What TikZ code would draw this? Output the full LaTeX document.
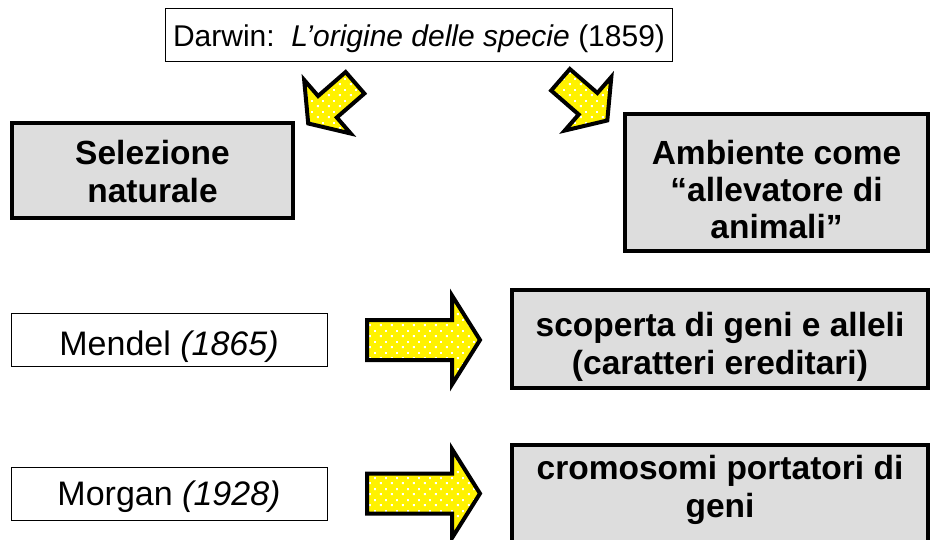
\documentclass[tikz,border=0pt]{standalone}
\usepackage{fontspec}
\setmainfont{Liberation Sans}
\usetikzlibrary{patterns}

% sparse staggered white dots used inside the yellow block arrows
\pgfdeclarepatternformonly{sparsedots}{\pgfqpoint{0pt}{0pt}}{\pgfqpoint{10.5pt}{10.5pt}}{\pgfqpoint{10.5pt}{10.5pt}}{%
  \pgfpathrectangle{\pgfqpoint{1pt}{1pt}}{\pgfqpoint{2pt}{2pt}}%
  \pgfpathrectangle{\pgfqpoint{6.25pt}{6.25pt}}{\pgfqpoint{2pt}{2pt}}%
  \pgfusepath{fill}}

\definecolor{boxgray}{RGB}{221,221,221}

% block arrow: start x, start y, angle, length, shaft half width, head base, head half width
\newcommand\yellowarrow[7]{%
  \path[blockarrow, shift={(#1,#2)}, rotate=#3]
    (0,#5) -- (#6,#5) -- (#6,#7) -- (#4,0) -- (#6,-#7) -- (#6,-#5) -- (0,-#5) -- cycle;}

% invisible struts that move a multi-line text block down or up inside its box
\newcommand\tallfirst[1]{\rule{0pt}{#1}}
\newcommand\deeplast[1]{\rule[-#1]{0pt}{0pt}}

\begin{document}
\begin{tikzpicture}[x=1pt, y=1pt,
  plainbox/.style={draw=black, line width=1pt, fill=white, inner sep=0pt, align=center,
    font=\fontsize{34}{38}\selectfont},
  titlebox/.style={plainbox, font=\fontsize{30}{36}\selectfont},
  graybox/.style={draw=black, line width=4pt, fill=boxgray, inner sep=0pt, align=center,
    font=\bfseries\fontsize{33.5}{38}\selectfont},
  blockarrow/.style={draw=black, line width=4pt, line join=miter,
    preaction={fill=yellow}, preaction={pattern=sparsedots, pattern color=white}}]

\clip (0,0) rectangle (931,-540);
\useasboundingbox (0,0) rectangle (931,-540);

% title
\node[titlebox, minimum width=507, minimum height=53, text height=26pt, text depth=3.6pt]
  (darwin) at (419,-35.5)
  {Darwin:\ \ \textit{L’origine delle specie} (1859)};

% outcomes of Darwin's theory
\node[graybox, minimum width=281, minimum height=95] (selezione) at (152.5,-170.5)
  {\tallfirst{26.5pt}Selezione\\naturale};
\node[graybox, minimum width=303, minimum height=137,
      font=\bfseries\fontsize{33.5}{37}\selectfont] (ambiente) at (776.5,-182.5)
  {\tallfirst{39pt}Ambiente come\\“allevatore di\\animali”};

% Mendel
\node[plainbox, minimum width=316, minimum height=53, text height=31.5pt, text depth=0.5pt]
  (mendel) at (169,-339.5)
  {Mendel \textit{(1865)}};
\node[graybox, minimum width=416, minimum height=98] (scoperta) at (720,-339)
  {\tallfirst{40.4pt}scoperta di geni e alleli\\(caratteri ereditari)};

% Morgan
\node[plainbox, minimum width=316, minimum height=53, text height=28pt, text depth=4pt]
  (morgan) at (169,-493.5)
  {Morgan \textit{(1928)}};
\node[graybox, minimum width=416, minimum height=100] (cromosomi) at (720,-495)
  {cromosomi portatori di\\geni\deeplast{16.4pt}};

% arrows
\yellowarrow{355}{-82.8}{221}{62}{14.25}{36.5}{35.5}
\yellowarrow{560.5}{-79.8}{-41}{62}{14.25}{36.5}{35.5}
\yellowarrow{367}{-340}{0}{113}{20}{85}{44.5}
\yellowarrow{367}{-493.5}{0}{113}{20}{85}{44.5}

\end{tikzpicture}
\end{document}
